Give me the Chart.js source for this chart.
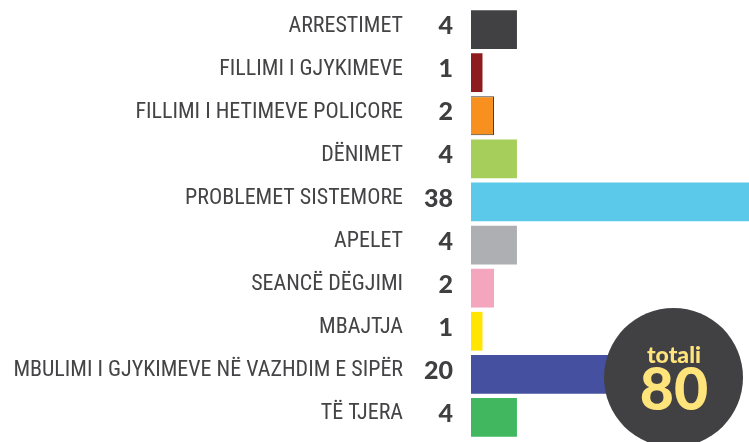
<!DOCTYPE html>
<html><head><meta charset="utf-8">
<script src="https://cdn.jsdelivr.net/npm/chart.js@4"></script>
<style>html,body{margin:0;padding:0;background:#fff}#w{width:749px;height:442px;position:relative}</style>
</head><body><div id="w"><canvas id="c"></canvas></div>
<script>
const categories = ["ARRESTIMET","FILLIMI I GJYKIMEVE","FILLIMI I HETIMEVE POLICORE","DËNIMET","PROBLEMET SISTEMORE","APELET","SEANCË DËGJIMI","MBAJTJA","MBULIMI I GJYKIMEVE NË VAZHDIM E SIPËR","TË TJERA"];
const values = [4,1,2,4,38,4,2,1,20,4];
const barColors = ["#414143","#8E1B1E","#F7901E","#A6CE5B","#5BC9EA","#AEAFB3","#F4A6BF","#FFE500","#4650A0","#41B860"];
const borderColors = ["#414143","#8E1B1E","#3a3a3a","#A6CE5B","#5BC9EA","#AEAFB3","#F4A6BF","#FFE500","#4650A0","#41B860"];
const totalLabel = "totali";

const labelPlugin = {
  id:'lbls',
  afterDatasetsDraw(chart){
    const ctx = chart.ctx, ys = chart.scales.y;
    const left = chart.chartArea.left;
    ctx.save();
    ctx.textBaseline = "middle"; ctx.textAlign = "right";
    categories.forEach((c,i)=>{
      const y = ys.getPixelForValue(i) - 3.5;
      ctx.font = "22px 'Liberation Sans Narrow','Roboto Condensed',sans-serif";
      ctx.fillStyle = "#444446";
      ctx.fillText(c, left-68, y);
      ctx.font = "900 25px Lato";
      ctx.fillStyle = "#3f3f41";
      ctx.fillText(String(values[i]), left-18, y);
    });
    ctx.restore();
  },
  afterDraw(chart){
    const ctx = chart.ctx;
    const total = values.reduce((a,b)=>a+b,0);
    ctx.save();
    ctx.beginPath(); ctx.arc(673.5,377.5,69.5,0,Math.PI*2); ctx.fillStyle="#414143"; ctx.fill();
    ctx.fillStyle="#FFE37B"; ctx.textAlign="center"; ctx.textBaseline="alphabetic";
    ctx.font="900 23px Lato"; ctx.fillText(totalLabel,674,363);
    ctx.font="900 59px Lato"; ctx.fillText(String(total),674,410);
    ctx.restore();
  }
};

new Chart(document.getElementById('c'),{
  type:'bar',
  data:{labels:categories,datasets:[{data:values,backgroundColor:barColors,borderColor:borderColors,borderWidth:[0,0,1,0,0,0,0,0,0,0],barPercentage:0.9,categoryPercentage:1}]},
  options:{
    indexAxis:'y',responsive:true,maintainAspectRatio:false,animation:false,
    layout:{padding:{top:8,bottom:3,left:0,right:0}},
    plugins:{legend:{display:false},tooltip:{enabled:false}},
    scales:{
      x:{display:false,min:0,max:24.2},
      y:{grid:{display:false},border:{display:false},
         afterFit(s){s.width=471;s.paddingTop=0;s.paddingBottom=0;},
         ticks:{display:false}}
    }
  },
  plugins:[labelPlugin]
});
</script></body></html>
